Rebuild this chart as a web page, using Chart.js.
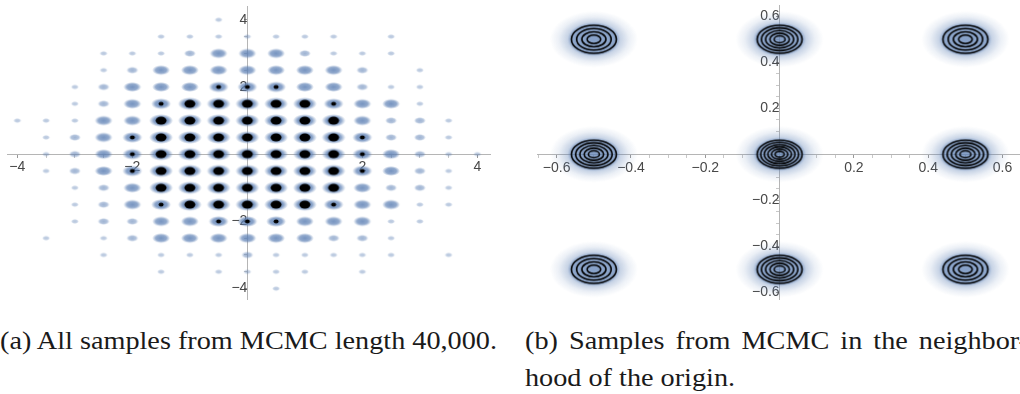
<!DOCTYPE html>
<html>
<head>
<meta charset="utf-8">
<script src="https://cdn.jsdelivr.net/npm/chart.js@4.4.1/dist/chart.umd.min.js"></script>
<style>
  html, body { margin: 0; padding: 0; background: #fff; width: 1020px; height: 394px; overflow: hidden; position: relative; }
  .box { position: absolute; }
  .cap { position: absolute; font-family: "Liberation Serif", "Times New Roman", serif; font-size: 26px; line-height: 26px;
         white-space: nowrap; color: #1a1a1a; transform-origin: 0 0; }
</style>
</head>
<body>
<div class="box" id="allBox" style="left:7px;top:6px;width:483px;height:293px"><canvas id="allChart"></canvas></div>
<div class="box" id="nearBox" style="left:537px;top:5px;width:483px;height:294px"><canvas id="nearChart"></canvas></div>
<div class="cap" id="capA" style="left:0px;top:328px">(a) All samples from MCMC length 40,000.</div>
<div class="cap" id="capB1" style="left:525px;top:328px">(b) Samples from MCMC in the neighbor-</div>
<div class="cap" id="capB2" style="left:525px;top:365px">hood of the origin.</div>
<script>
// ── (a) all samples: lattice of modes, density level read per cell ──
const gridX = [-4,-3.5,-3,-2.5,-2,-1.5,-1,-0.5,0,0.5,1,1.5,2,2.5,3,3.5,4];
const gridY = [4,3.5,3,2.5,2,1.5,1,0.5,0,-0.5,-1,-1.5,-2,-2.5,-3,-3.5,-4];
// 0 none, 1 trace, 2 faint, 3 blue cloud, 4 cloud + dark dot, 5 dark core
const density = [
  [0,0,0,0,0,0,0,1,0,0,0,0,0,0,0,0,0],
  [0,0,0,0,0,1,1,1,1,1,1,1,0,1,0,0,0],
  [0,0,0,1,1,1,2,3,3,3,2,1,1,1,0,0,0],
  [0,0,0,1,2,3,3,3,3,3,3,3,2,0,1,0,0],
  [0,0,1,2,3,3,3,4,4,4,3,3,2,1,1,0,0],
  [0,0,1,2,3,4,5,5,5,5,5,4,3,3,1,0,0],
  [1,1,1,3,3,5,5,5,5,5,5,5,3,2,2,1,0],
  [0,1,2,3,4,5,5,5,5,5,5,5,4,2,2,1,0],
  [0,1,2,3,4,5,5,5,5,5,5,5,4,3,2,1,1],
  [0,1,2,3,4,5,5,5,5,5,5,5,4,3,2,1,0],
  [0,0,1,2,3,5,5,5,5,5,5,5,3,2,2,1,0],
  [0,0,1,2,3,4,5,5,5,5,5,4,3,3,1,1,0],
  [0,0,1,2,2,3,3,4,4,4,3,3,3,1,1,0,0],
  [0,1,0,1,2,3,3,3,3,3,3,2,2,1,0,0,0],
  [0,0,0,1,0,1,1,1,2,1,1,1,1,1,0,1,0],
  [0,0,0,0,0,1,0,1,1,1,1,0,1,0,0,0,0],
  [0,0,0,0,0,0,0,0,0,1,0,0,0,0,0,0,0]
];
const allXTicks = [-4,-2,2,4];
const allYTicks = [-4,-2,2,4];

// ── (b) neighbourhood of the origin: nine modes ──
const modeX = [-0.5, 0, 0.5, -0.5, 0, 0.5, -0.5, 0, 0.5];
const modeY = [0.5, 0.5, 0.5, 0, 0, 0, -0.5, -0.5, -0.5];
const modeContours = [4, 5, 4, 5, 6, 5, 4, 5, 4];
const nearXTicks = [-0.6,-0.4,-0.2,0.2,0.4,0.6];
const nearYTicks = [-0.6,-0.4,-0.2,0.2,0.4,0.6];

const BLUE = '94,129,181';

function blobCanvas(rx, ry, alpha, coreRx, coreRy) {
  const w = Math.ceil(rx * 2) + 2, h = Math.ceil(ry * 2) + 2;
  const c = document.createElement('canvas');
  c.width = w; c.height = h;
  const g = c.getContext('2d');
  g.save();
  g.translate(w / 2, h / 2);
  g.scale(1, ry / rx);
  const rg = g.createRadialGradient(0, 0, 0, 0, 0, rx);
  rg.addColorStop(0, `rgba(${BLUE},${alpha})`);
  rg.addColorStop(0.6, `rgba(${BLUE},${alpha * 0.8})`);
  rg.addColorStop(1, `rgba(${BLUE},0)`);
  g.fillStyle = rg;
  g.beginPath(); g.arc(0, 0, rx, 0, Math.PI * 2); g.fill();
  g.restore();
  if (coreRx) {
    g.fillStyle = '#000';
    g.beginPath(); g.ellipse(w / 2, h / 2, coreRx, coreRy, 0, 0, Math.PI * 2); g.fill();
  }
  return c;
}

function modeCanvas(n) {
  const w = 96, h = 64;
  const c = document.createElement('canvas');
  c.width = w; c.height = h;
  const g = c.getContext('2d');
  g.save();
  g.translate(w / 2, h / 2);
  g.scale(1, 0.64);
  const rg = g.createRadialGradient(0, 0, 0, 0, 0, 44);
  rg.addColorStop(0, `rgba(${BLUE},0.75)`);
  rg.addColorStop(0.52, `rgba(${BLUE},0.7)`);
  rg.addColorStop(0.6, `rgba(${BLUE},0.35)`);
  rg.addColorStop(0.8, `rgba(${BLUE},0.12)`);
  rg.addColorStop(1, `rgba(${BLUE},0)`);
  g.fillStyle = rg;
  g.beginPath(); g.arc(0, 0, 44, 0, Math.PI * 2); g.fill();
  g.restore();
  g.strokeStyle = '#000'; g.lineWidth = 1.6;
  for (let k = 1; k <= n; k++) {
    const f = (k + 0.3) / (n + 0.3);
    g.beginPath(); g.ellipse(w / 2, h / 2, 22.5 * f, 14 * f, 0, 0, Math.PI * 2); g.stroke();
  }
  return c;
}

const levelStyles = {
  5: blobCanvas(12, 6.5, 0.95, 5.5, 4),
  4: blobCanvas(10, 5.5, 0.9, 2.5, 2),
  3: blobCanvas(9, 5, 0.85),
  2: blobCanvas(6, 3.5, 0.6),
  1: blobCanvas(4, 2.5, 0.45)
};

const fmt = v => (Math.abs(v) < 1 ? v.toFixed(1) : String(v)).replace('-', '\u2212');

function axis(dir, min, max, majors, minorStep) {
  const isMajor = v => majors.some(m => Math.abs(m - v) < 1e-6);
  return {
    type: 'linear',
    position: dir === 'x' ? { y: 0 } : { x: 0 },
    min, max,
    afterBuildTicks: s => {
      const t = [];
      for (let i = Math.ceil(min / minorStep - 1e-9); i * minorStep <= max + 1e-9; i++) {
        t.push({ value: +(i * minorStep).toFixed(6) });
      }
      s.ticks = t;
    },
    afterFit: s => { s.paddingLeft = 0; s.paddingRight = 0; s.paddingTop = 0; s.paddingBottom = 0; },
    ticks: {
      autoSkip: false, maxRotation: 0, padding: 2, color: '#484848',
      font: { family: 'Liberation Sans', size: 14 },
      callback: v => isMajor(v) ? fmt(v) : ''
    },
    grid: {
      drawOnChartArea: false, drawTicks: true, tickLength: 3, tickWidth: 1,
      tickColor: c => (c.tick && isMajor(c.tick.value)) ? '#999' : '#c8c8c8'
    },
    border: { display: true, color: '#b5b5b5', width: 1 }
  };
}

const baseOptions = {
  responsive: true, maintainAspectRatio: false, animation: false, events: [],
  layout: { padding: 0 },
  plugins: { legend: { display: false }, tooltip: { enabled: false } }
};

// (a) datasets, strongest level first so it sits on top
const allSets = [5, 4, 3, 2, 1].map(lv => {
  const pts = [];
  gridY.forEach((y, r) => gridX.forEach((x, c) => { if (density[r][c] === lv) pts.push({ x, y }); }));
  return { data: pts, pointStyle: levelStyles[lv], pointRadius: 3 };
});

const allChart = new Chart(document.getElementById('allChart').getContext('2d'), {
  type: 'scatter',
  data: { datasets: allSets },
  options: {
    ...baseOptions,
    scales: {
      x: axis('x', -4.18, 4.22, allXTicks, 0.5),
      y: axis('y', -4.31, 4.41, allYTicks, 0.5)
    }
  }
});

// (b) one dataset, one contour picture per mode
const nearChart = new Chart(document.getElementById('nearChart').getContext('2d'), {
  type: 'scatter',
  data: {
    datasets: [{
      data: modeX.map((x, i) => ({ x, y: modeY[i] })),
      pointStyle: modeContours.map(n => modeCanvas(n)),
      pointRadius: 3
    }]
  },
  options: {
    ...baseOptions,
    scales: {
      x: axis('x', -0.653, 0.647, nearXTicks, 0.05),
      y: axis('y', -0.629, 0.649, nearYTicks, 0.05)
    }
  }
});

// grow the holder once so the plot area (not the canvas) lands on the wanted box
function fitArea(chart, box) {
  const a = chart.chartArea, w = box.clientWidth, h = box.clientHeight;
  const dl = a.left, dt = a.top, dr = w - a.right, db = h - a.bottom;
  box.style.left = (parseFloat(box.style.left) - dl) + 'px';
  box.style.top = (parseFloat(box.style.top) - dt) + 'px';
  box.style.width = (w + dl + dr) + 'px';
  box.style.height = (h + dt + db) + 'px';
  chart.resize();
}
fitArea(allChart, document.getElementById('allBox'));
fitArea(nearChart, document.getElementById('nearBox'));

// captions: stretch serif text to the widths of the original typeset lines
function fitCaptions() {
  const a = document.getElementById('capA');
  const b1 = document.getElementById('capB1');
  const b2 = document.getElementById('capB2');
  const s = 497 / a.getBoundingClientRect().width;
  [a, b1, b2].forEach(el => { el.style.transform = `scaleX(${s})`; });
  const natural = b1.getBoundingClientRect().width / s;
  const target = 503 / s;
  b1.style.wordSpacing = ((target - natural) / 6) + 'px';
}
fitCaptions();
</script>
</body>
</html>
